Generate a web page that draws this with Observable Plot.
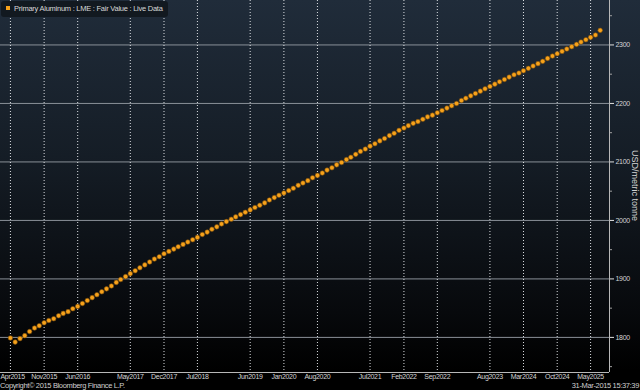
<!DOCTYPE html>
<html>
<head>
<meta charset="utf-8">
<script src="https://cdn.jsdelivr.net/npm/d3@7"></script>
<script src="https://cdn.jsdelivr.net/npm/@observablehq/plot@0.6"></script>
<style>
  html, body { margin: 0; padding: 0; background: #000; }
  #wrap { position: relative; width: 640px; height: 390px; overflow: hidden;
    background: linear-gradient(to bottom, #202c3a 0%, #151d26 40%, #07090c 80%, #000 95%);
    font-family: "Liberation Sans", Arial, sans-serif; }
  #legend { position: absolute; left: 1px; top: 1px; height: 16px; padding: 0 5px 0 5px;
    background: #121920; border-radius: 3px; color: #d8d8d8; font-size: 7.5px; letter-spacing: -0.25px;
    line-height: 16px; white-space: nowrap; }
  #legend .sw { display: inline-block; width: 4px; height: 4px; background: #f7a21b; margin-right: 4px; vertical-align: 1px; }
  #footer { position: absolute; left: 0; right: 1px; top: 382px; height: 8px; font-size: 7.5px;
    letter-spacing: -0.35px; line-height: 8px; color: #cfcfcf; white-space: nowrap; }
  #footer .r { position: absolute; right: 0; top: 0; }
  #ylabel { position: absolute; left: 630px; top: 150px; writing-mode: vertical-rl; font-size: 9px;
    line-height: 10px; color: #d4d4d4; white-space: nowrap; }
  svg text { letter-spacing: -0.3px; }
</style>
</head>
<body>
<div id="wrap">
  <div id="chart"></div>
  <div id="legend"></div>
  <div id="ylabel"></div>
  <div id="footer"><span class="l"></span><span class="r"></span></div>
</div>
<script>
// ---- data ----
const seriesName = "Primary Aluminum : LME : Fair Value : Live Data";
const unitLabel = "USD/metric tonne";
const copyrightText = "Copyright\u00a9 2015 Bloomberg Finance L.P.";
const timestampText = "31-Mar-2015 15:37:39";
const firstMonth = "2015-04-01";
// monthly fair value, Apr 2015 .. Jul 2025
const fairValues = [
  1799, 1792, 1798, 1803, 1810, 1816, 1820, 1825, 1829,
  1832, 1837, 1841, 1844, 1849, 1853, 1858, 1863, 1868, 1873, 1878, 1883,
  1888, 1894, 1899, 1904, 1909, 1914, 1919, 1924, 1929, 1934, 1938, 1943,
  1947, 1951, 1955, 1959, 1963, 1967, 1971, 1976, 1980, 1985, 1989, 1994,
  1998, 2002, 2006, 2010, 2014, 2018, 2022, 2026, 2030, 2035, 2039, 2043,
  2047, 2051, 2055, 2060, 2064, 2068, 2073, 2077, 2081, 2086, 2090, 2095,
  2099, 2104, 2108, 2113, 2118, 2122, 2127, 2131, 2136, 2140, 2145, 2149,
  2154, 2158, 2162, 2166, 2169, 2173, 2177, 2180, 2184, 2188, 2192, 2196,
  2200, 2205, 2209, 2213, 2217, 2221, 2225, 2229, 2233, 2237, 2241, 2245,
  2249, 2252, 2256, 2260, 2264, 2268, 2272, 2277, 2281, 2285, 2289, 2293,
  2297, 2301, 2305, 2309, 2313, 2317, 2325
];
const xTickDates = ["2015-04-01","2015-11-01","2016-06-01","2017-05-01","2017-12-01","2018-07-01",
  "2019-06-01","2020-01-01","2020-08-01","2021-07-01","2022-02-01","2022-09-01",
  "2023-08-01","2024-03-01","2024-10-01","2025-05-01"];
const xTickLabels = ["Apr2015","Nov2015","Jun2016","May2017","Dec2017","Jul2018",
  "Jun2019","Jan2020","Aug2020","Jul2021","Feb2022","Sep2022",
  "Aug2023","Mar2024","Oct2024","May2025"];
const yTicks = [1800, 1900, 2000, 2100, 2200, 2300];
const yMinorTicks = [1750, 1850, 1950, 2050, 2150, 2250, 2350];
const xDomain = ["2015-01-28", "2025-08-29"];
const yDomain = [1740, 2376];

// ---- build ----
const start = new Date(firstMonth);
const data = fairValues.map((v, i) => ({date: d3.utcMonth.offset(start, i), value: v}));
const tickDates = xTickDates.map(s => new Date(s));
const labelOf = new Map(tickDates.map((d, i) => [+d, xTickLabels[i]]));
const xMax = new Date(xDomain[1]);

const chart = Plot.plot({
  width: 640,
  height: 382,
  marginLeft: 0,
  marginRight: 31,
  marginTop: 0,
  marginBottom: 10,
  style: {background: "transparent", color: "#d4d4d4", fontSize: "7px",
          fontFamily: "'Liberation Sans', Arial, sans-serif"},
  x: {type: "utc", domain: xDomain.map(s => new Date(s))},
  y: {domain: yDomain},
  marks: [
    Plot.ruleY(yTicks, {stroke: "#8a9098", strokeWidth: 1}),
    Plot.gridX({ticks: tickDates, stroke: "#e6e9ec", strokeWidth: 1, strokeOpacity: 0.95, strokeDasharray: "1,2"}),
    Plot.ruleY([yDomain[0]], {stroke: "#b8b8b8", strokeWidth: 1}),
    Plot.ruleX([xMax], {stroke: "#b8b8b8", strokeWidth: 1}),
    Plot.axisX({ticks: tickDates.slice(1), tickSize: 0, tickPadding: 2, tickFormat: d => labelOf.get(+d),
      label: null, fill: "#d4d4d4"}),
    Plot.axisX({ticks: tickDates.slice(0, 1), tickSize: 0, tickPadding: 2, tickFormat: d => labelOf.get(+d),
      label: null, fill: "#d4d4d4", textAnchor: "start", dx: -10}),
    Plot.axisY({anchor: "right", ticks: yMinorTicks, tickSize: 2, tickFormat: () => "", label: null,
      stroke: "#a0a0a0"}),
    Plot.axisY({anchor: "right", ticks: yTicks, tickSize: 4, tickPadding: 2, label: null,
      stroke: "#e0e0e0", fill: "#d4d4d4", tickFormat: d => String(d)}),
    Plot.dot(data, {x: "date", y: "value", r: 2.3, fill: "#f7a21b", stroke: "#7a4e0c", strokeWidth: 0.6})
  ]
});
document.getElementById("chart").appendChild(chart);

document.getElementById("legend").innerHTML = '<span class="sw"></span>' + seriesName;
document.getElementById("ylabel").textContent = unitLabel;
document.querySelector("#footer .l").textContent = copyrightText;
document.querySelector("#footer .r").textContent = timestampText;
</script>
</body>
</html>
